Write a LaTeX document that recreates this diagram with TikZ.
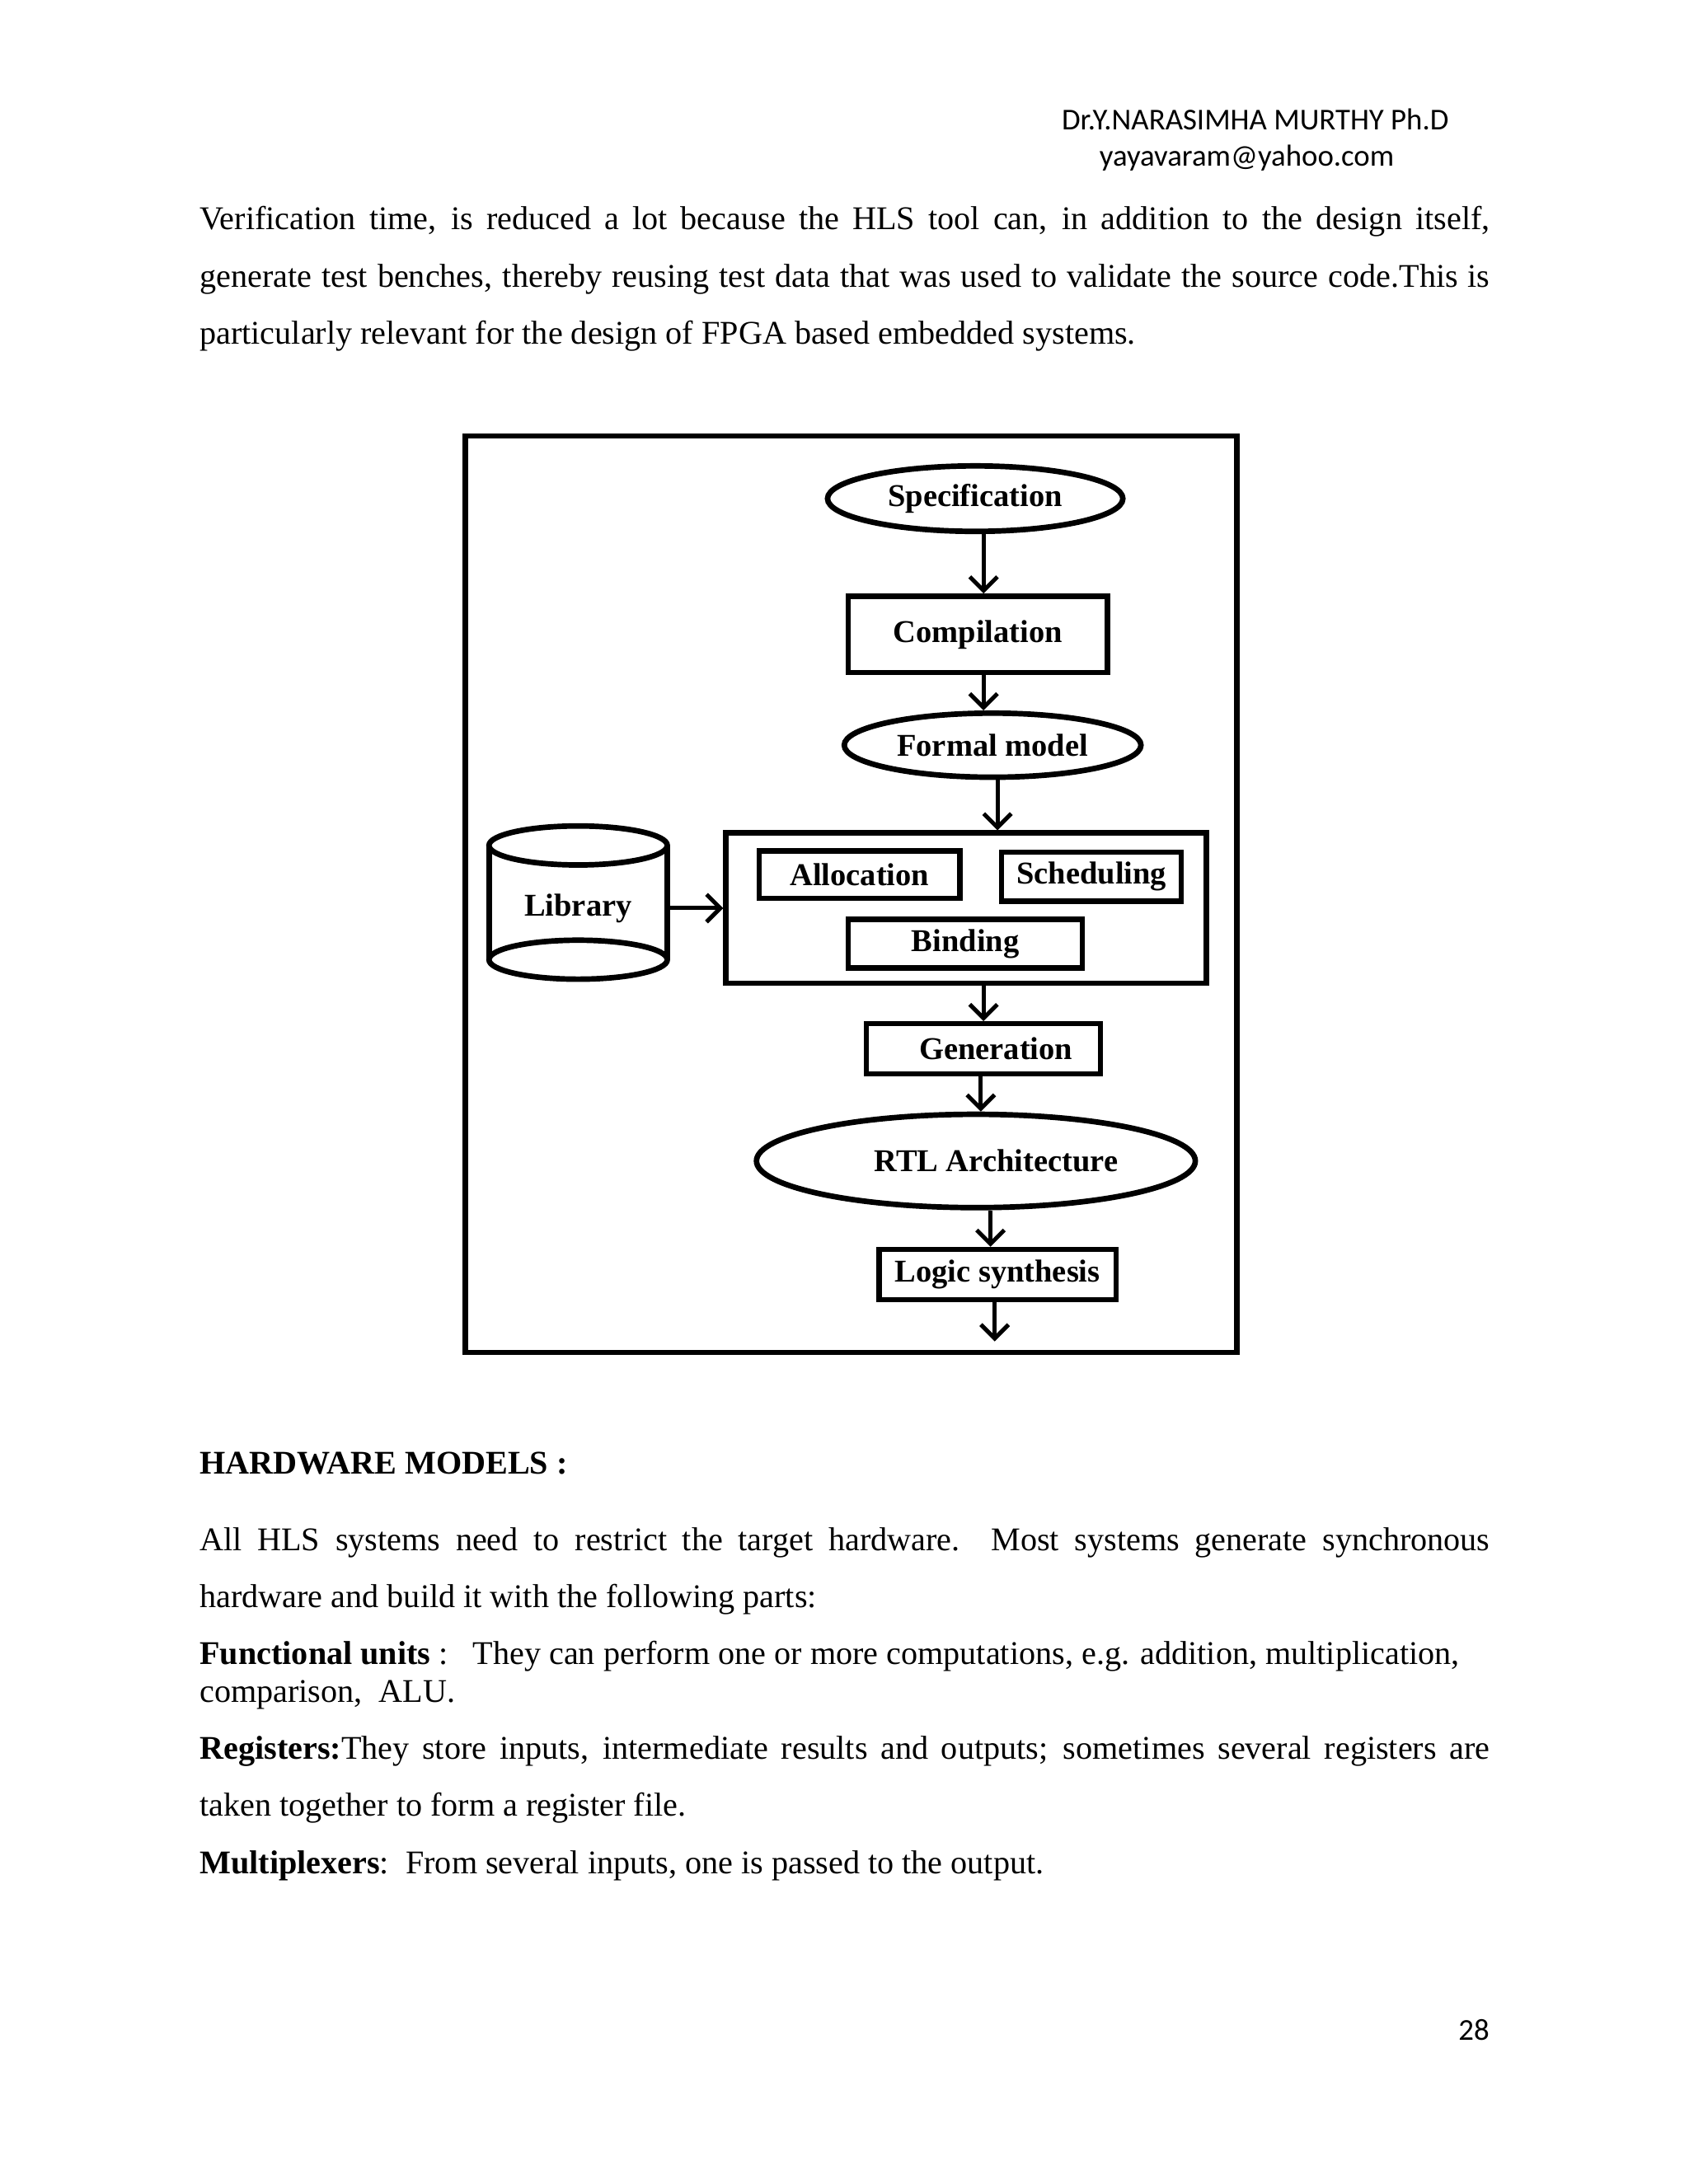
\documentclass[tikz,border=0pt]{standalone}
\usepackage{fontspec}
\setmainfont{Liberation Serif}
\newfontfamily\hdrfont{Carlito}
\usetikzlibrary{shapes.geometric,arrows.meta}
\newcommand\pxu{0.50495pt}
\newcommand\jline[1]{\hbox to 467.6pt{#1}}
\begin{document}
\begin{tikzpicture}[x=0.50495pt,y=-0.50495pt,
  body/.style={anchor=base west,inner sep=0,font=\fontsize{12}{14}\selectfont},
  hd/.style={anchor=base,inner sep=0,font=\hdrfont\fontsize{11}{13}\selectfont},
  lbl/.style={font=\fontsize{11.5}{13}\selectfont\bfseries},
  sz/.style 2 args={minimum width={#1*\pxu},minimum height={#2*\pxu}},
  stepbox/.style={draw,rectangle,line width=1.9pt,inner sep=0,lbl},
  ellbox/.style={draw,ellipse,line width=2pt,inner sep=0,lbl},
  arr/.style={line width=1.5pt,-{Straight Barb[length=5pt,width=10pt,line width=1.5pt]}}]
\useasboundingbox (0,0) rectangle (1212,1568);
\fill[white] (0,0) rectangle (1212,1568);

% header
\node[hd] (h1) at (901,93) {Dr.Y.NARASIMHA MURTHY Ph.D};
\node[hd] (h2) at (895,119) {yayavaram@yahoo.com};

% top paragraph
\node[body] (p1) at (143,165) {\jline{Verification time, is reduced a lot because the HLS tool can, in addition to the design itself,}};
\node[body] (p2) at (143,206) {\jline{generate test benches, thereby reusing test data that was used to validate the source code.This is}};
\node[body] (p3) at (143,247) {particularly relevant for the design of FPGA based embedded systems.};

% diagram frame
\draw[line width=2pt] (334,313) rectangle (888,971);

\node[ellbox,sz={212}{47}] (spec) at (700,358) {Specification};
\node[stepbox,sz={186}{55}] (comp) at (702,455.5) {Compilation};
\node[ellbox,sz={213}{46}] (fm) at (712.5,535) {Formal model};
\node[stepbox,sz={345}{108}] (core) at (693.5,652) {};
\node[stepbox,sz={144}{34}] (alloc) at (617,628) {Allocation};
\node[stepbox,sz={129}{35}] (sched) at (783.5,629.5) {Scheduling};
\node[stepbox,sz={168}{35}] (bind) at (693,677.5) {Binding};
\node[stepbox,sz={168}{36}] (gen) at (706,753) {\hspace*{9pt}Generation};
\node[ellbox,sz={315}{67}] (rtl) at (700.5,833.5) {\hspace*{14.6pt}RTL Architecture};
\node[stepbox,sz={170}{36}] (logic) at (716,915) {Logic synthesis};
\coordinate (out) at (714,963);

% library cylinder
\node[lbl,inner sep=0,sz={128}{96}] (lib) at (415,652) {Library};
\draw[line width=2pt] (351,607) -- (351,689) (479,607) -- (479,689);
\draw[line width=2pt,fill=white] (415,607) ellipse [x radius=64,y radius=14];
\draw[line width=2pt] (415,689) ellipse [x radius=64,y radius=14];

% connectors
\draw[arr] ([xshift={6*\pxu}]spec.south) -- ([xshift={4*\pxu}]comp.north);
\draw[arr] ([xshift={4*\pxu}]comp.south) -- ([xshift={-6.5*\pxu}]fm.north);
\draw[arr] ([xshift={3.5*\pxu}]fm.south) -- ([xshift={22.5*\pxu}]core.north);
\draw[arr] (lib.east) -- (core.west);
\draw[arr] ([xshift={12.5*\pxu}]core.south) -- (gen.north);
\draw[arr] ([xshift={-2*\pxu}]gen.south) -- ([xshift={3.5*\pxu}]rtl.north);
\draw[arr] ([xshift={10.5*\pxu}]rtl.south) -- ([xshift={-5*\pxu}]logic.north);
\draw[arr] ([xshift={-2*\pxu}]logic.south) -- (out);

% lower text
\node[body,font=\fontsize{12}{14}\selectfont\bfseries] (hm) at (143,1058) {HARDWARE MODELS :};
\node[body] (q1) at (143,1113) {\jline{All HLS systems need to restrict the target hardware.\ \ Most systems generate synchronous}};
\node[body] (q2) at (143,1154) {hardware and build it with the following parts:};
\node[body] (q3) at (143,1195) {\textbf{Functional units} :\ \ \ They can perform one or more computations, e.g. addition, multiplication,};
\node[body] (q4) at (143,1222) {comparison,\ \ ALU.};
\node[body] (q5) at (143,1263) {\jline{\textbf{Registers:}They store inputs, intermediate results and outputs; sometimes several registers are}};
\node[body] (q6) at (143,1304) {taken together to form a register file.};
\node[body] (q7) at (143,1345) {\textbf{Multiplexers}:\ \ From several inputs, one is passed to the output.};

\node[hd] (pg) at (1058,1465) {28};
\end{tikzpicture}
\end{document}
